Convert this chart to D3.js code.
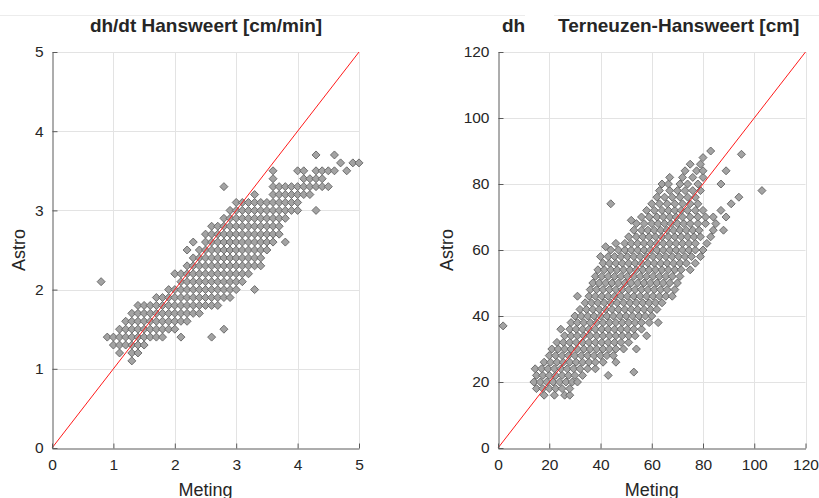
<!DOCTYPE html>
<html>
<head>
<meta charset="utf-8">
<script src="https://cdn.jsdelivr.net/npm/d3@7"></script>
<style>
  body { margin: 0; background: #fff; }
  text { font-family: "Liberation Sans", Arial, Helvetica, sans-serif; fill: #262626; }
</style>
</head>
<body>
<script>
// canvas size
var w = 819;
var h = 498;

// tick values
var dtTicks = [0, 1, 2, 3, 4, 5];
var dhTicks = [0, 20, 40, 60, 80, 100, 120];

// dh/dt Hansweert, values in tenths of cm/min: [astro, [meting...]]
var dtRows = [
  [11, [13]],
  [12, [11, 13, 14]],
  [13, [10, 11, 12, 13, 14, 15]],
  [14, [9, 10, 11, 12, 13, 14, 15, 16, 17, 18, 21, 26]],
  [15, [11, 12, 13, 14, 15, 16, 17, 18, 19, 20, 28]],
  [16, [12, 13, 14, 15, 16, 17, 18, 19, 20, 21, 22]],
  [17, [13, 14, 15, 16, 17, 18, 19, 20, 21, 22, 23, 24]],
  [18, [14, 15, 16, 17, 18, 19, 20, 21, 22, 23, 24, 25, 26, 27]],
  [19, [17, 18, 19, 20, 21, 22, 23, 24, 25, 26, 27, 28, 29]],
  [20, [19, 20, 21, 22, 23, 24, 25, 26, 27, 28, 29, 30, 33]],
  [21, [8, 21, 22, 23, 24, 25, 26, 27, 28, 29, 30, 31]],
  [22, [20, 21, 22, 23, 24, 25, 26, 27, 28, 29, 30, 31, 32]],
  [23, [22, 23, 24, 25, 26, 27, 28, 29, 30, 31, 32, 33, 34]],
  [24, [23, 24, 25, 26, 27, 28, 29, 30, 31, 32, 33, 34]],
  [25, [22, 24, 25, 26, 27, 28, 29, 30, 31, 32, 33, 34, 35]],
  [26, [23, 25, 26, 27, 28, 29, 30, 31, 32, 33, 34, 35, 36, 38]],
  [27, [25, 26, 27, 28, 29, 30, 31, 32, 33, 34, 35, 36, 37]],
  [28, [26, 27, 28, 29, 30, 31, 32, 33, 34, 35, 36, 37]],
  [29, [28, 29, 30, 31, 32, 33, 34, 35, 36, 37, 38]],
  [30, [29, 30, 31, 32, 33, 34, 35, 36, 37, 38, 39, 40, 43]],
  [31, [30, 31, 32, 33, 34, 35, 36, 37, 38, 39, 40]],
  [32, [33, 36, 37, 38, 39, 40, 41, 42]],
  [33, [28, 36, 37, 38, 39, 40, 41, 42, 43, 44, 45]],
  [34, [36, 41, 42, 43, 44]],
  [35, [36, 40, 41, 43, 44, 45, 46, 48]],
  [36, [47, 49, 50]],
  [37, [43, 46]]
];

// dh Terneuzen-Hansweert in cm: [astro, [meting...]]
var dhRows = [
  [16, [18, 22, 26, 28]],
  [18, [15, 17.5, 20, 22.5, 25, 28]],
  [20, [14, 16.5, 19, 21.5, 24, 26.5, 29, 31]],
  [22, [15, 17.5, 20, 22.5, 25, 27.5, 30, 33, 43]],
  [23, [53]],
  [24, [14.5, 17, 19.5, 22, 24.5, 27, 29.5, 32, 35, 38]],
  [26, [18, 20.5, 23, 25.5, 28, 30.5, 33, 35.5, 38, 41, 46]],
  [28, [20, 22.5, 25, 27.5, 30, 32.5, 35, 37.5, 40, 42.5, 45]],
  [30, [21, 23.5, 26, 28.5, 31, 33.5, 36, 38.5, 41, 43.5, 46, 49, 54]],
  [32, [23, 25.5, 28, 30.5, 33, 35.5, 38, 40.5, 43, 45.5, 48, 51]],
  [34, [26, 28.5, 31, 33.5, 36, 38.5, 41, 43.5, 46, 48.5, 51, 53.5, 58]],
  [36, [24.5, 28, 30.5, 33, 35.5, 38, 40.5, 43, 45.5, 48, 50.5, 53, 56]],
  [37, [2]],
  [38, [28.5, 31, 33.5, 36, 38.5, 41, 43.5, 46, 48.5, 51, 53.5, 56, 59, 62.5]],
  [40, [30, 32.5, 35, 37.5, 40, 42.5, 45, 47.5, 50, 52.5, 55, 57.5, 60]],
  [42, [32, 34.5, 37, 39.5, 42, 44.5, 47, 49.5, 52, 54.5, 57, 59.5, 62]],
  [44, [34, 36.5, 39, 41.5, 44, 46.5, 49, 51.5, 54, 56.5, 59, 61.5, 64]],
  [46, [31, 35.5, 38, 40.5, 43, 45.5, 48, 50.5, 53, 55.5, 58, 60.5, 63, 65.5, 68]],
  [48, [36, 38.5, 41, 43.5, 46, 48.5, 51, 53.5, 56, 58.5, 61, 63.5, 66, 69]],
  [50, [37, 39.5, 42, 44.5, 47, 49.5, 52, 54.5, 57, 59.5, 62, 64.5, 67, 70]],
  [52, [38, 40.5, 43, 45.5, 48, 50.5, 53, 55.5, 58, 60.5, 63, 65.5, 68, 71]],
  [54, [39, 41.5, 44, 46.5, 49, 51.5, 54, 56.5, 59, 61.5, 64, 66.5, 69, 71.5, 75]],
  [56, [41, 43.5, 46, 48.5, 51, 53.5, 56, 58.5, 61, 63.5, 66, 68.5, 71, 73.5, 77]],
  [58, [40, 43, 45.5, 48, 50.5, 53, 55.5, 58, 60.5, 63, 65.5, 68, 70.5, 73, 75.5, 79]],
  [60, [44, 47, 49.5, 52, 54.5, 57, 59.5, 62, 64.5, 67, 69.5, 72, 74.5, 77, 80]],
  [61, [42]],
  [62, [46, 49.5, 52, 54.5, 57, 59.5, 62, 64.5, 67, 69.5, 72, 74.5, 77, 81.5]],
  [64, [51, 54, 56.5, 59, 61.5, 64, 66.5, 69, 71.5, 74, 76.5, 79, 83]],
  [66, [53, 56, 58.5, 61, 63.5, 66, 68.5, 71, 73.5, 76, 78.5, 84, 88]],
  [68, [54, 57, 60, 62.5, 65, 67.5, 70, 72.5, 75, 78, 81, 85]],
  [69, [52]],
  [70, [56, 59, 62, 64.5, 67, 69.5, 72, 75, 78, 81, 84, 89]],
  [72, [58, 61, 64, 66.5, 69, 71.5, 74, 77, 80, 87]],
  [74, [44, 60, 63, 66, 69, 72, 75, 78, 91]],
  [76, [62, 65, 68, 71, 74, 77, 94]],
  [78, [63, 67, 70, 73, 76, 79, 103]],
  [80, [64, 66.5, 71, 74, 78, 87]],
  [82, [67, 72, 76, 80]],
  [84, [73, 77.5, 80, 89]],
  [86, [75, 79]],
  [88, [80]],
  [89, [95]],
  [90, [83]]
];

// flatten rows into point objects
function toPoints(rows, div) {
  var pts = [];
  rows.forEach(function(r) {
    r[1].forEach(function(x) {
      pts.push({ x: x / div, y: r[0] / div });
    });
  });
  return pts;
}

var svg = d3.select("body")
  .append("svg")
  .attr("width", w)
  .attr("height", h);

// faint figure edge near the top, interrupted behind the right title
svg.append("line")
  .attr("x1", 0).attr("x2", 525).attr("y1", 15.5).attr("y2", 15.5)
  .attr("stroke", "#ececec");
svg.append("line")
  .attr("x1", 554).attr("x2", w).attr("y1", 15.5).attr("y2", 15.5)
  .attr("stroke", "#ececec");

var diamond = "M0,-4L4,0L0,4L-4,0Z";

function drawPanel(opt) {
  var x = d3.scaleLinear().domain(opt.domain).range([opt.left, opt.right]);
  var y = d3.scaleLinear().domain(opt.domain).range([opt.bottom, opt.top]);
  var g = svg.append("g");

  // grid
  g.selectAll(".gx")
    .data(opt.ticks.slice(1))
    .enter().append("line")
    .attr("x1", function(d) { return Math.round(x(d)) + 0.5; })
    .attr("x2", function(d) { return Math.round(x(d)) + 0.5; })
    .attr("y1", opt.top).attr("y2", opt.bottom)
    .attr("stroke", "#e3e3e3");
  g.selectAll(".gy")
    .data(opt.ticks.slice(1))
    .enter().append("line")
    .attr("y1", function(d) { return Math.round(y(d)) + 0.5; })
    .attr("y2", function(d) { return Math.round(y(d)) + 0.5; })
    .attr("x1", opt.left).attr("x2", opt.right)
    .attr("stroke", "#e3e3e3");

  // points
  g.selectAll(".pt")
    .data(opt.points)
    .enter().append("path")
    .attr("d", diamond)
    .attr("transform", function(d) { return "translate(" + x(d.x) + "," + y(d.y) + ")"; })
    .attr("fill", "#a3a3a3")
    .attr("stroke", "#626262")
    .attr("stroke-width", 0.9);

  // 1:1 line
  g.append("line")
    .attr("x1", x(opt.domain[0])).attr("y1", y(opt.domain[0]))
    .attr("x2", x(opt.domain[1])).attr("y2", y(opt.domain[1]))
    .attr("stroke", "#ff1a1a")
    .attr("stroke-width", 1);

  // axes (ticks inward)
  var fmt = d3.format("d");
  var xAxis = d3.axisBottom(x).tickValues(opt.ticks).tickFormat(fmt)
    .tickSizeInner(-5).tickSizeOuter(0).tickPadding(10);
  var yAxis = d3.axisLeft(y).tickValues(opt.ticks).tickFormat(fmt)
    .tickSizeInner(-5).tickSizeOuter(0).tickPadding(9);
  var gx = g.append("g")
    .attr("transform", "translate(0," + (Math.round(opt.bottom) + 0.5) + ")")
    .call(xAxis);
  var gy = g.append("g")
    .attr("transform", "translate(" + (Math.round(opt.left) + 0.5) + ",0)")
    .call(yAxis);
  [gx, gy].forEach(function(a) {
    a.selectAll("path, line").attr("stroke", "#5a5a5a");
    a.selectAll("text")
      .attr("font-size", "15.5px")
      .attr("fill", "#262626")
      .attr("font-family", "Liberation Sans, Arial, sans-serif");
  });

  // labels
  g.append("text")
    .attr("x", (opt.left + opt.right) / 2)
    .attr("y", 496)
    .attr("text-anchor", "middle")
    .attr("font-size", "18px")
    .text("Meting");
  g.append("text")
    .attr("transform", "translate(" + opt.ylabelX + ",250) rotate(-90)")
    .attr("text-anchor", "middle")
    .attr("font-size", "18px")
    .text("Astro");
}

drawPanel({
  left: 52, right: 359, top: 52, bottom: 448,
  domain: [0, 5], ticks: dtTicks,
  points: toPoints(dtRows, 10),
  ylabelX: 25
});

drawPanel({
  left: 498, right: 805.5, top: 52, bottom: 448,
  domain: [0, 120], ticks: dhTicks,
  points: toPoints(dhRows, 1),
  ylabelX: 453
});

// titles
svg.append("text")
  .attr("x", 206).attr("y", 31.5)
  .attr("text-anchor", "middle")
  .attr("font-size", "19px").attr("font-weight", "bold")
  .attr("fill", "#1a1a1a")
  .text("dh/dt Hansweert [cm/min]");
svg.append("text")
  .attr("x", 502).attr("y", 31.5)
  .attr("font-size", "19px").attr("font-weight", "bold")
  .attr("fill", "#1a1a1a")
  .text("dh");
svg.append("text")
  .attr("x", 558).attr("y", 31.5)
  .attr("font-size", "19px").attr("font-weight", "bold")
  .attr("fill", "#1a1a1a")
  .text("Terneuzen-Hansweert [cm]");
</script>
</body>
</html>
